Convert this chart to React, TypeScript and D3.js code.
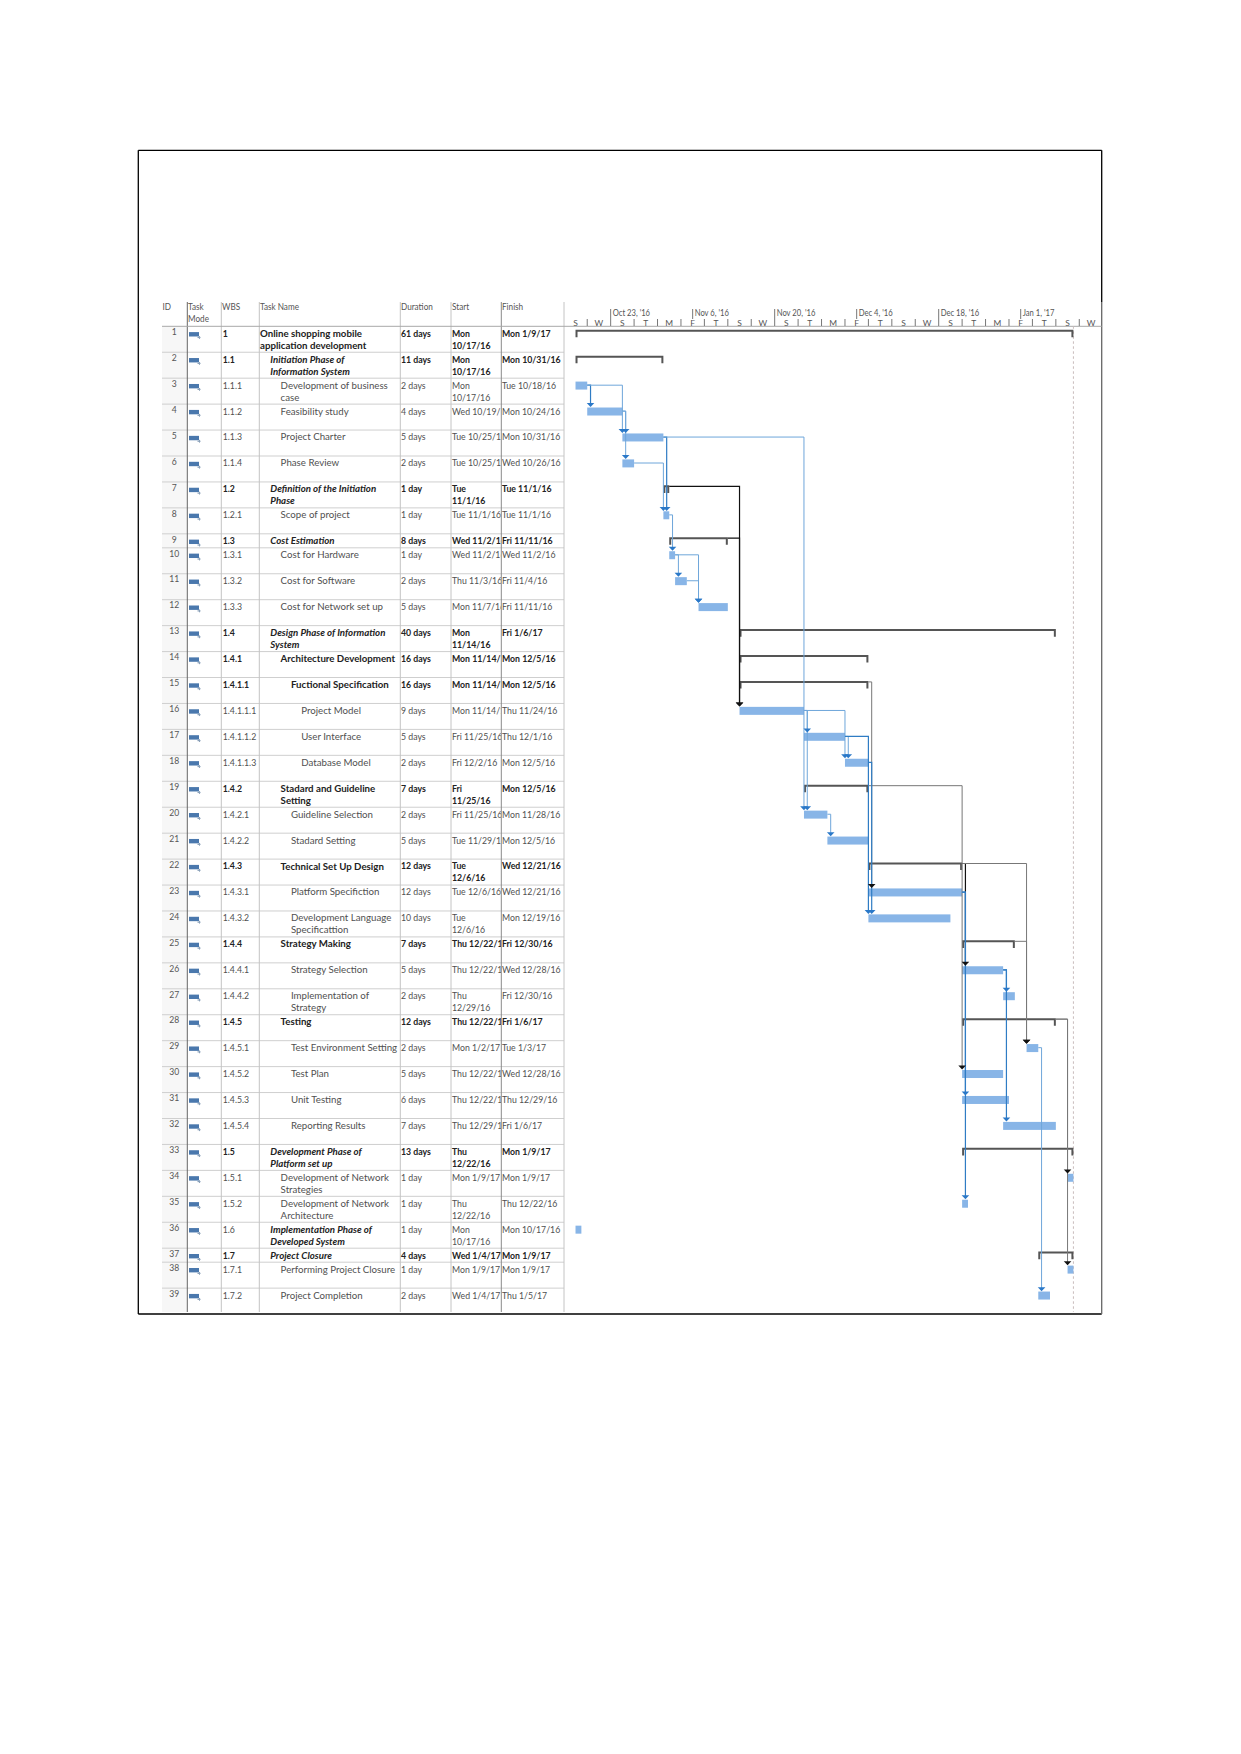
import React from 'react';
import * as d3 from 'd3';

const wbs = ['1','1.1','1.1.1','1.1.2','1.1.3','1.1.4','1.2','1.2.1','1.3','1.3.1','1.3.2','1.3.3','1.4','1.4.1','1.4.1.1','1.4.1.1.1','1.4.1.1.2','1.4.1.1.3','1.4.2','1.4.2.1','1.4.2.2','1.4.3','1.4.3.1','1.4.3.2','1.4.4','1.4.4.1','1.4.4.2','1.4.5','1.4.5.1','1.4.5.2','1.4.5.3','1.4.5.4','1.5','1.5.1','1.5.2','1.6','1.7','1.7.1','1.7.2'];
// "|" is a line break inside the cell
const names = ['Online shopping mobile|application development','Initiation Phase of|Information System','Development of business|case','Feasibility study','Project Charter','Phase Review','Definition of the Initiation|Phase','Scope of project','Cost Estimation','Cost for Hardware','Cost for Software','Cost for Network set up','Design Phase of Information|System','Architecture Development','Fuctional Specification','Project Model','User Interface','Database Model','Stadard and Guideline|Setting','Guideline Selection','Stadard Setting','Technical Set Up Design','Platform Specifiction','Development Language|Specificattion','Strategy Making','Strategy Selection','Implementation of|Strategy','Testing','Test Environment Setting','Test Plan','Unit Testing','Reporting Results','Development Phase of|Platform set up','Development of Network|Strategies','Development of Network|Architecture','Implementation Phase of|Developed System','Project Closure','Performing Project Closure','Project Completion'];
const durations = ['61 days','11 days','2 days','4 days','5 days','2 days','1 day','1 day','8 days','1 day','2 days','5 days','40 days','16 days','16 days','9 days','5 days','2 days','7 days','2 days','5 days','12 days','12 days','10 days','7 days','5 days','2 days','12 days','2 days','5 days','6 days','7 days','13 days','1 day','1 day','1 day','4 days','1 day','2 days'];
const starts = ['Mon|10/17/16','Mon|10/17/16','Mon|10/17/16','Wed 10/19/16','Tue 10/25/16','Tue 10/25/16','Tue|11/1/16','Tue 11/1/16','Wed 11/2/16','Wed 11/2/16','Thu 11/3/16','Mon 11/7/16','Mon|11/14/16','Mon 11/14/16','Mon 11/14/16','Mon 11/14/16','Fri 11/25/16','Fri 12/2/16','Fri|11/25/16','Fri 11/25/16','Tue 11/29/16','Tue|12/6/16','Tue 12/6/16','Tue|12/6/16','Thu 12/22/16','Thu 12/22/16','Thu|12/29/16','Thu 12/22/16','Mon 1/2/17','Thu 12/22/16','Thu 12/22/16','Thu 12/29/16','Thu|12/22/16','Mon 1/9/17','Thu|12/22/16','Mon|10/17/16','Wed 1/4/17','Mon 1/9/17','Wed 1/4/17'];
const finishes = ['Mon 1/9/17','Mon 10/31/16','Tue 10/18/16','Mon 10/24/16','Mon 10/31/16','Wed 10/26/16','Tue 11/1/16','Tue 11/1/16','Fri 11/11/16','Wed 11/2/16','Fri 11/4/16','Fri 11/11/16','Fri 1/6/17','Mon 12/5/16','Mon 12/5/16','Thu 11/24/16','Thu 12/1/16','Mon 12/5/16','Mon 12/5/16','Mon 11/28/16','Mon 12/5/16','Wed 12/21/16','Wed 12/21/16','Mon 12/19/16','Fri 12/30/16','Wed 12/28/16','Fri 12/30/16','Fri 1/6/17','Tue 1/3/17','Wed 12/28/16','Thu 12/29/16','Fri 1/6/17','Mon 1/9/17','Mon 1/9/17','Thu 12/22/16','Mon 10/17/16','Mon 1/9/17','Mon 1/9/17','Thu 1/5/17'];
const shortRows = [9, 37];

// [from id, to id, drawn strong?]
const summaryLinks = [[7,16,1],[9,16,1],[15,23,0],[19,30,0],[22,26,1],[22,29,0],[25,29,0],[28,34,0],[28,38,0]];
const taskLinks = [[3,4,1],[3,5,0],[4,5,0],[4,6,0],[5,8,1],[5,20,0],[6,8,0],[8,10,0],[10,11,0],[10,12,0],[11,12,0],[16,17,0],[16,18,0],[17,18,0],[16,20,0],[17,24,1],[18,24,1],[20,21,0],[23,31,1],[23,35,1],[26,27,1],[26,32,1],[29,39,0]];

const headers = [['ID',162.5],['Task|Mode',188],['WBS',222],['Task Name',260],['Duration',401],['Start',452],['Finish',502]];

const colX = { id: 162, mode: 187.3, wbs: 221.3, name: 259.3, dur: 400.3, start: 451, finish: 501.3, chart: 564 };
const frame = { left: 138.3, top: 150.3, right: 1101.7, bottom: 1314 };
const headerY = 326.3;
const bodyEnd = 1312;
const font = 'Lato, "Open Sans", sans-serif';

const parseDay = d3.utcParse('%m/%d/%y');
const dayOf = (label) => parseDay(label.split(/[ |]/)[1]);

const x = d3.scaleUtc([new Date(Date.UTC(2016, 9, 15)), new Date(Date.UTC(2017, 0, 1))], [563.8, 1020.7]);
const minorTicks = d3.utcDay.range(new Date(Date.UTC(2016, 9, 15)), new Date(Date.UTC(2017, 0, 12)), 4);
const majorTicks = d3.utcDay.range(new Date(Date.UTC(2016, 9, 23)), new Date(Date.UTC(2017, 0, 2)), 14);
const majorFormat = d3.utcFormat("%b %-d, '%y");
const minorFormat = (d) => d3.utcFormat('%a')(d)[0];

const heights = wbs.map((_, i) => (shortRows.includes(i + 1) ? 14 : 25.94));
const rowTops = [headerY, ...d3.cumsum(heights).map(h => headerY + h)];
const isSummary = (i) => wbs.some(w => w.startsWith(wbs[i] + '.'));
const level = (i) => wbs[i].split('.').length - 1;
const startX = (i) => x(dayOf(starts[i]));
const endX = (i) => x(d3.utcDay.offset(dayOf(finishes[i]), 1));

const line = d3.line();

function linkPath(from, to, summary) {
    const a = from - 1, b = to - 1;
    const y0 = rowTops[a] + (summary ? 4.4 : 7);
    const elbow = Math.max(startX(b), endX(a) + 3.3);
    return line([[endX(a), y0], [elbow, y0], [elbow, rowTops[b]]]);
}

function arrow(from, to) {
    const ex = Math.max(startX(to - 1), endX(from - 1) + 3.3);
    const t = rowTops[to - 1];
    return line([[ex - 3.8, t - 1], [ex + 3.8, t - 1], [ex, t + 3]]) + 'Z';
}

// multi-line cell text, squeezed sideways: the digits of Lato run wider than the reference's font
function Lines({ text, x, y, sx = 1, ...rest }) {
    return (
        <text transform={`translate(${x},0) scale(${sx},1)`} y={y} {...rest}>
            {text.split('|').map((t, k) => <tspan key={k} x={0} y={y + k * 12}>{t}</tspan>)}
        </text>
    );
}

export default function App() {
    return (
        <svg width={1241} height={1754} viewBox='0 0 1241 1754' fontFamily={font}
            style={{ position: 'absolute', left: 0, top: 0, display: 'block', background: '#fff' }}>
            <defs>
                <clipPath id='start-clip'><rect x={colX.start} y={headerY} width={colX.finish - colX.start - 0.5} height={bodyEnd - headerY} /></clipPath>
            </defs>

            {/* outer frame */}
            <line x1={frame.left} x2={frame.right} y1={frame.top} y2={frame.top} stroke='#000' strokeWidth={1.3} />
            <line x1={frame.left} x2={frame.left} y1={frame.top} y2={frame.bottom} stroke='#000' strokeWidth={1.3} />
            <line x1={frame.left} x2={frame.right} y1={frame.bottom} y2={frame.bottom} stroke='#000' strokeWidth={1.3} />
            <line x1={frame.right} x2={frame.right} y1={frame.top} y2={302} stroke='#000' strokeWidth={1.3} />
            <line x1={frame.right} x2={frame.right} y1={302} y2={frame.bottom} stroke='#666' strokeWidth={1.3} />

            {/* table background and grid */}
            <rect x={colX.id} y={headerY} width={colX.mode - colX.id} height={bodyEnd - headerY} fill='#f7f7f7' />
            {rowTops.slice(1, 39).map((t, i) => (
                <line key={i} x1={colX.id} x2={colX.chart} y1={t} y2={t} stroke='#cfcfcf' />
            ))}
            {[colX.wbs, colX.name, colX.dur, colX.start, colX.chart].map(c => (
                <line key={c} x1={c} x2={c} y1={302} y2={bodyEnd} stroke='#c4c4c4' />
            ))}
            <line x1={colX.mode} x2={colX.mode} y1={302} y2={bodyEnd} stroke='#666' />
            <line x1={colX.finish} x2={colX.finish} y1={302} y2={bodyEnd} stroke='#8a8a8a' />
            <line x1={colX.id} x2={frame.right} y1={headerY} y2={headerY} stroke='#a8a8a8' />

            {/* table header */}
            {headers.map(([label, hx]) => (
                <Lines key={label} text={label} x={hx} y={309.8} sx={0.93} fontSize={8.8} fill='#555' />
            ))}

            {/* timescale */}
            {majorTicks.map(d => (
                <g key={+d}>
                    <line x1={x(d)} x2={x(d)} y1={309} y2={319} stroke='#777' />
                    <Lines text={majorFormat(d)} x={x(d) + 2} y={316} sx={0.85} fontSize={9} fill='#555' />
                </g>
            ))}
            {minorTicks.map((d, i) => (
                <g key={+d}>
                    {i > 0 && <line x1={x(d)} x2={x(d)} y1={319} y2={326} stroke='#777' />}
                    <text x={x(d3.utcDay.offset(d, 2))} y={325.8} fontSize={8.4} fill='#555' textAnchor='middle'>{minorFormat(d)}</text>
                </g>
            ))}

            {/* table rows */}
            {wbs.map((w, i) => {
                const top = rowTops[i];
                const summary = isSummary(i);
                const bold = summary ? 700 : 400;
                const color = summary ? '#222' : '#505050';
                const nameItalic = (summary && level(i) === 1) || w === '1.6';
                const nameBold = summary || w === '1.6';
                return (
                    <g key={w} fontSize={9.7}>
                        <text x={174.3} y={top + 8.7} fontSize={8.6} textAnchor='middle' fill='#555'>{i + 1}</text>
                        <rect x={189} y={top + 5.8} width={10} height={4.4} fill='#4a78ad' />
                        <path d={line([[197.5, top + 11.2], [200.5, top + 11.2]])} stroke='#8aa0b8' strokeWidth={1.2} />
                        <path d={line([[199.5, top + 9.8], [199.5, top + 12.6]])} stroke='#8aa0b8' strokeWidth={1} />
                        <Lines text={w} x={222.7} y={top + 10.4} sx={0.9} fontWeight={bold} fill={color} />
                        <Lines text={names[i]} x={260 + level(i) * 10.3} y={top + 10.4}
                            fontWeight={nameBold ? 700 : 400} fontStyle={nameItalic ? 'italic' : 'normal'} fill={nameBold ? '#222' : '#505050'} />
                        <Lines text={durations[i]} x={401} y={top + 10.4} sx={0.9} fontWeight={bold} fill={color} />
                        <g clipPath='url(#start-clip)'>
                            <Lines text={starts[i]} x={452} y={top + 10.4} sx={0.9} fontWeight={bold} fill={color} />
                        </g>
                        <Lines text={finishes[i]} x={502} y={top + 10.4} sx={0.9} fontWeight={bold} fill={color} />
                    </g>
                );
            })}

            {/* project finish marker */}
            <line x1={x(new Date(Date.UTC(2017, 0, 10)))} x2={x(new Date(Date.UTC(2017, 0, 10)))} y1={headerY} y2={bodyEnd}
                stroke='#c9bcbc' strokeDasharray='2.5 2.5' />

            {/* bars and summary brackets */}
            {wbs.map((w, i) => {
                const top = rowTops[i];
                const x0 = startX(i), x1 = endX(i);
                if (isSummary(i)) {
                    return (
                        <path key={w} d={line([[x0 + 1, top + 11], [x0 + 1, top + 4.4], [x1 - 1, top + 4.4], [x1 - 1, top + 11]])}
                            fill='none' stroke='#555' strokeWidth={2} />
                    );
                }
                return <rect key={w} x={x0} y={top + 3.4} width={x1 - x0} height={8} fill='#88b5e7' />;
            })}

            {/* dependency links */}
            {summaryLinks.map(([a, b, strong]) => (
                <path key={`s${a}-${b}`} d={linkPath(a, b, true)} fill='none'
                    stroke={strong ? '#111' : '#777'} strokeWidth={strong ? 1.2 : 1} />
            ))}
            {taskLinks.map(([a, b, strong]) => (
                <path key={`t${a}-${b}`} d={linkPath(a, b, false)} fill='none'
                    stroke={strong ? '#2f7cc4' : '#6ea6da'} strokeWidth={strong ? 1.2 : 1} />
            ))}
            {summaryLinks.map(([a, b]) => <path key={`sa${a}-${b}`} d={arrow(a, b)} fill='#111' />)}
            {taskLinks.map(([a, b]) => <path key={`ta${a}-${b}`} d={arrow(a, b)} fill='#2a78c8' />)}
        </svg>
    );
}
